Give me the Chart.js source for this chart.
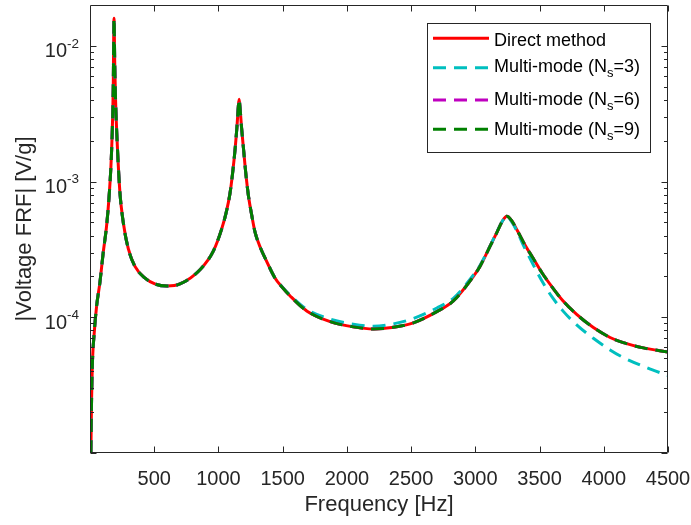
<!DOCTYPE html>
<html>
<head>
<meta charset="utf-8">
<script src="https://cdn.jsdelivr.net/npm/chart.js@4.4.1/dist/chart.umd.min.js"></script>
<style>
  body { margin: 0; background: #fff; }
  #wrap { width: 691px; height: 525px; }
</style>
</head>
<body>
<div id="wrap"><canvas id="frf" width="691" height="525"></canvas></div>
<script>
// frequency samples [Hz]
const freqs = [7, 12, 18, 33, 51, 77, 103, 129, 147, 163, 173, 181, 187, 193, 199, 214, 233, 259, 298, 350,
  427, 505, 600, 700, 858, 962, 1026, 1060, 1090, 1110, 1130, 1145, 1155, 1161, 1168, 1180, 1195, 1215, 1234,
  1260, 1286, 1330, 1370, 1440, 1500, 1560, 1690, 1870, 2050, 2207, 2350, 2518, 2700, 2829, 2985, 3037, 3115,
  3167, 3210, 3245, 3280, 3330, 3380, 3450, 3520, 3600, 3680, 3789, 3919, 4049, 4152, 4308, 4500];

const directVals = [1.0e-5, 2.4e-5, 4.4e-5, 7.7e-5, 1.2e-4, 1.8e-4, 3.0e-4, 4.7e-4, 7.4e-4, 1.3e-3, 2.3e-3, 5.0e-3,
  1.6e-2, 7.0e-3, 4.0e-3, 1.74e-3, 8.3e-4, 5.0e-4, 3.2e-4, 2.37e-4, 1.95e-4, 1.76e-4, 1.70e-4, 1.76e-4, 2.25e-4,
  3.1e-4, 4.5e-4, 5.9e-4, 8.2e-4, 1.15e-3, 1.75e-3, 2.6e-3, 3.6e-3, 4.05e-3, 3.5e-3, 2.5e-3, 1.75e-3, 1.1e-3,
  7.8e-4, 5.6e-4, 4.2e-4, 3.2e-4, 2.65e-4, 1.95e-4, 1.65e-4, 1.43e-4, 1.11e-4, 9.3e-5, 8.5e-5, 8.2e-5, 8.4e-5,
  9.1e-5, 1.1e-4, 1.32e-4, 2.0e-4, 2.38e-4, 3.34e-4, 4.2e-4, 5.1e-4, 5.56e-4, 5.2e-4, 4.3e-4, 3.5e-4, 2.72e-4,
  2.12e-4, 1.66e-4, 1.33e-4, 1.05e-4, 8.4e-5, 7.1e-5, 6.5e-5, 5.95e-5, 5.55e-5];

const ns3Vals = [1.0e-5, 2.4e-5, 4.4e-5, 7.7e-5, 1.2e-4, 1.8e-4, 3.0e-4, 4.7e-4, 7.4e-4, 1.3e-3, 2.3e-3, 5.0e-3,
  1.6e-2, 7.0e-3, 4.0e-3, 1.74e-3, 8.3e-4, 5.0e-4, 3.2e-4, 2.37e-4, 1.95e-4, 1.76e-4, 1.70e-4, 1.76e-4, 2.25e-4,
  3.1e-4, 4.5e-4, 5.9e-4, 8.2e-4, 1.15e-3, 1.75e-3, 2.6e-3, 3.6e-3, 4.05e-3, 3.5e-3, 2.5e-3, 1.75e-3, 1.1e-3,
  7.8e-4, 5.6e-4, 4.2e-4, 3.2e-4, 2.65e-4, 1.95e-4, 1.66e-4, 1.45e-4, 1.14e-4, 9.7e-5, 8.9e-5, 8.6e-5, 8.9e-5,
  9.8e-5, 1.17e-4, 1.38e-4, 2.05e-4, 2.42e-4, 3.36e-4, 4.25e-4, 5.1e-4, 5.56e-4, 5.1e-4, 4.2e-4, 3.3e-4, 2.45e-4,
  1.84e-4, 1.4e-4, 1.12e-4, 8.8e-5, 7.0e-5, 5.75e-5, 5.05e-5, 4.35e-5, 3.72e-5];

// Ns=6 and Ns=9 lie on top of the direct curve
const ns6Vals = directVals.slice();
const ns9Vals = directVals.slice();

const xTicks = [500, 1000, 1500, 2000, 2500, 3000, 3500, 4000, 4500];
const yExponents = [-2, -3, -4];
const minorDecades = [-5, -4, -3, -2];

const legendRows = [
  { main: 'Direct method', sub: '', rest: '', color: '#ff0000', dash: [] },
  { main: 'Multi-mode (N', sub: 's', rest: '=3)', color: '#00bfbf', dash: [13, 8] },
  { main: 'Multi-mode (N', sub: 's', rest: '=6)', color: '#bf00bf', dash: [13, 8] },
  { main: 'Multi-mode (N', sub: 's', rest: '=9)', color: '#008000', dash: [13, 8] }
];

const FONT = '"Liberation Sans", Arial, sans-serif';
const AXIS = '#262626';

function toPoints(vals) {
  return freqs.map((f, i) => ({ x: f, y: vals[i] }));
}

function lineSet(label, vals, color, dash, order) {
  return {
    label: label,
    data: toPoints(vals),
    borderColor: color,
    borderWidth: 3,
    borderDash: dash,
    borderCapStyle: 'butt',
    pointRadius: 0,
    showLine: true,
    fill: false,
    cubicInterpolationMode: 'monotone',
    order: order
  };
}

const framePlugin = {
  id: 'frame',
  afterDatasetsDraw(chart) {
    const { ctx, chartArea: a, scales: { x, y } } = chart;
    const L = Math.round(a.left) + 0.5, R = Math.round(a.right) - 0.5;
    const T = Math.round(a.top) + 0.5, B = Math.round(a.bottom) - 0.5;
    ctx.save();
    ctx.strokeStyle = AXIS;
    ctx.lineWidth = 1;
    ctx.beginPath();
    ctx.rect(L, T, R - L, B - T);
    // x ticks, inward on top and bottom
    xTicks.forEach(v => {
      const px = Math.round(x.getPixelForValue(v)) + 0.5;
      ctx.moveTo(px, B); ctx.lineTo(px, B - 6);
      ctx.moveTo(px, T); ctx.lineTo(px, T + 6);
    });
    // y major and minor ticks, inward on left and right
    minorDecades.forEach(e => {
      for (let k = 1; k <= 9; k++) {
        const v = k * Math.pow(10, e);
        if (v < y.min || v >= y.max) continue;
        const py = Math.round(y.getPixelForValue(v)) + 0.5;
        const len = k === 1 ? 6 : 3.5;
        ctx.moveTo(L, py); ctx.lineTo(L + len, py);
        ctx.moveTo(R, py); ctx.lineTo(R - len, py);
      }
    });
    ctx.stroke();

    // y tick labels 10^e
    ctx.fillStyle = AXIS;
    ctx.textBaseline = 'alphabetic';
    yExponents.forEach(e => {
      const py = y.getPixelForValue(Math.pow(10, e));
      ctx.font = '20px ' + FONT;
      ctx.textAlign = 'right';
      ctx.fillText('10', 67, py + 11.5);
      ctx.font = '13.5px ' + FONT;
      ctx.textAlign = 'left';
      ctx.fillText(String(e), 67, py + 1.8);
    });
    ctx.restore();
  },
  afterDraw(chart) {
    const ctx = chart.ctx;
    ctx.save();
    ctx.fillStyle = '#ffffff';
    ctx.fillRect(427.5, 23.5, 223, 129);
    ctx.strokeStyle = AXIS;
    ctx.lineWidth = 1;
    ctx.strokeRect(427.5, 23.5, 223, 129);
    const rowY = [38.3, 67.7, 100, 129.3];
    const baseOff = [7.5, 4.5, 5, 5.5];
    legendRows.forEach((r, i) => {
      ctx.beginPath();
      ctx.strokeStyle = r.color;
      ctx.lineWidth = 3;
      ctx.setLineDash(r.dash);
      ctx.moveTo(433, rowY[i]);
      ctx.lineTo(489, rowY[i]);
      ctx.stroke();
      ctx.setLineDash([]);
      ctx.fillStyle = '#000000';
      ctx.textAlign = 'left';
      ctx.textBaseline = 'alphabetic';
      const by = rowY[i] + baseOff[i];
      ctx.font = '18px ' + FONT;
      let tx = 494;
      ctx.fillText(r.main, tx, by);
      tx += ctx.measureText(r.main).width;
      if (r.sub) {
        ctx.font = '13px ' + FONT;
        ctx.fillText(r.sub, tx, by + 5);
        tx += ctx.measureText(r.sub).width;
        ctx.font = '18px ' + FONT;
        ctx.fillText(r.rest, tx, by);
      }
    });
    ctx.restore();
  }
};

new Chart(document.getElementById('frf'), {
  type: 'scatter',
  data: {
    datasets: [
      lineSet('Direct method', directVals, '#ff0000', [], 4),
      lineSet('Multi-mode (Ns=3)', ns3Vals, '#00bfbf', [13, 8], 3),
      lineSet('Multi-mode (Ns=6)', ns6Vals, '#bf00bf', [13, 8], 2),
      lineSet('Multi-mode (Ns=9)', ns9Vals, '#008000', [13, 8], 1)
    ]
  },
  options: {
    responsive: false,
    animation: false,
    devicePixelRatio: 1,
    layout: { padding: { top: 5, right: 23, left: 0, bottom: 0 } },
    plugins: { legend: { display: false }, tooltip: { enabled: false } },
    scales: {
      x: {
        type: 'linear',
        min: 0,
        max: 4500,
        grid: { display: false, drawTicks: false },
        border: { display: false },
        ticks: {
          stepSize: 500,
          color: AXIS,
          padding: 14,
          maxRotation: 0,
          font: { family: FONT, size: 20 },
          callback: v => (v === 0 ? '' : v)
        },
        title: {
          display: true,
          text: 'Frequency [Hz]',
          color: AXIS,
          font: { family: FONT, size: 22 },
          padding: { top: 4, bottom: 7 }
        },
        afterFit: s => { s.height = 72; s.paddingLeft = 0; s.paddingRight = 0; }
      },
      y: {
        type: 'logarithmic',
        min: 1e-5,
        max: 2e-2,
        grid: { display: false, drawTicks: false },
        border: { display: false },
        ticks: { display: false },
        title: {
          display: true,
          text: '|Voltage FRF| [V/g]',
          color: AXIS,
          font: { family: FONT, size: 22 },
          padding: { top: 12, bottom: 0 }
        },
        afterFit: s => { s.width = 90; s.paddingTop = 0; s.paddingBottom = 0; }
      }
    }
  },
  plugins: [framePlugin]
});
</script>
</body>
</html>
